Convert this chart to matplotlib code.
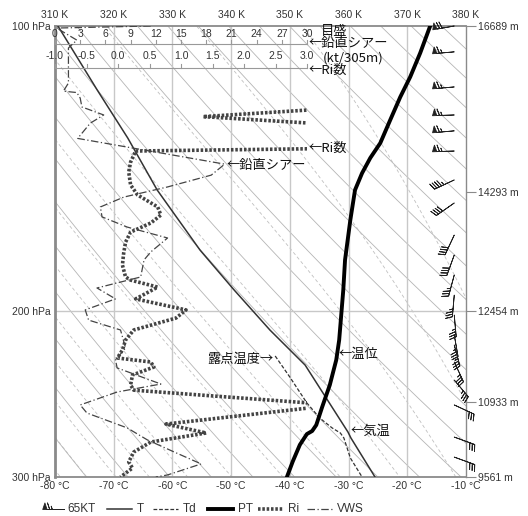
import numpy as np
import matplotlib.pyplot as plt
import matplotlib.transforms as mtransforms
from matplotlib.patches import Rectangle

plt.rcParams['font.family'] = ['Liberation Sans', 'Noto Sans CJK JP', 'DejaVu Sans']
plt.rcParams['font.size'] = 7.5

# temperature (deg C)
t_p = [100, 116.9, 131.4, 149.1, 172.6, 190.2, 209.7, 228.4, 268.9, 272.8, 300]
t_c = [-79.5, -72.8, -67.6, -62.6, -55.3, -49.5, -43.4, -37.4, -30.1, -29.6, -25.5]

# dew point (deg C)
td_p = [223.4, 235.2, 250.5, 259.9, 266.2, 269.5, 272.8, 286.4, 300]
td_c = [-42.5, -40.0, -37.1, -34.9, -32.8, -31.4, -30.8, -29.7, -27.7]

# potential temperature (K)
pt_p = [100, 106.8, 113.2, 118.9, 125.7, 133.0, 137.9, 143.1, 149.1, 160.4, 176.8,
        190.2, 214.9, 225.6, 239.8, 253.0, 264.3, 268.2, 270.2, 277.4, 288.8, 300]
pt_k = [373.9, 372.2, 370.5, 368.8, 367.1, 365.4, 363.7, 362.3, 361.1, 360.3, 359.4,
        359.1, 358.4, 357.9, 356.8, 355.5, 354.5, 353.8, 352.9, 351.7, 350.5, 349.5]

# vertical wind shear (kt/305m)
vws_p = [100, 100.5, 103.5, 105.5, 114.9, 117.2, 117.6, 119.2, 121.8, 124.2, 126.7,
         131.5, 140.0, 143.8, 148.0, 151.7, 155.4, 159.2, 163.2, 167.6, 173.4, 176.8,
         184.3, 189.3, 194.4, 199.7, 204.7, 209.7, 219.1, 225.6, 230.0, 239.2, 243.9,
         251.7, 256.7, 266.2, 274.1, 282.3, 290.6, 298.5, 300]
vws = [11.4, 0.2, 2.6, 1.6, 1.6, 1.0, 2.6, 3.0, 3.2, 5.8, 4.2,
       2.7, 20.2, 18.6, 13.4, 8.2, 5.4, 5.6, 8.6, 13.4, 11.4, 10.6,
       10.2, 5.0, 7.2, 3.6, 4.0, 7.8, 8.4, 7.2, 7.4, 12.6, 7.4,
       3.0, 3.8, 8.6, 11.0, 14.2, 17.4, 13.4, 12.0]

# Richardson number (values above 3 run off the scale)
ri_p = [122.1, 124.7, 127.6, 134.6, 135.6, 139.3, 142.7, 147.3, 150.9, 155.4, 158.5,
        161.6, 165.2, 169.3, 173.9, 179.0, 184.3, 185.7, 188.9, 194.4, 199.7, 203.7,
        209.7, 214.9, 220.2, 224.5, 226.7, 229.5, 234.0, 239.8, 242.8, 251.7, 263.7,
        269.5, 275.5, 282.3, 289.2, 293.5, 300]
ri = [3.54, 1.35, 3.81, 4.0, 0.28, 0.20, 0.17, 0.20, 0.31, 0.63, 0.68,
      0.52, 0.20, 0.12, 0.09, 0.07, 0.12, 0.20, 0.63, 0.28, 1.08, 0.92,
      0.25, 0.12, 0.07, -0.01, 0.52, 0.57, 0.23, 0.20, 0.25, 3.46, 0.76,
      1.40, 0.52, 0.25, 0.17, 0.23, 0.04]

# wind (direction deg, speed kt)
wind_p = [100, 106.5, 116.0, 124.2, 129.1, 135.6, 145.5, 153.9, 166.4, 174.7, 183.4,
          192.6, 202.2, 212.3, 217.5, 226.7, 236.9, 251.7, 272.2, 285.8]
wind_dir = [260, 265, 265, 268, 265, 268, 245, 235, 205, 200, 195,
            185, 175, 170, 165, 155, 140, 115, 110, 110]
wind_spd = [70, 65, 65, 65, 65, 65, 45, 40, 40, 40, 35,
            35, 35, 35, 35, 35, 35, 30, 30, 30]

p_lab = [100, 200, 300]
h_p = [100, 150, 200, 250, 300]
h_m = [16689, 14293, 12454, 10933, 9561]

W, H = 528, 516
L, R, TOP, BOT = 55, 466, 26, 477
fig = plt.figure(figsize=(W / 100, H / 100), dpi=100)
ax = fig.add_axes([L / W, 1 - BOT / H, (R - L) / W, (BOT - TOP) / H])
ax.set_yscale('log')
ax.set_ylim(300, 100)
ax.set_xlim(-80, -10)
frame = '#8a8a8a'
txt = '#333333'

# background: dry adiabats and moist adiabats
pb = np.linspace(100, 300, 200)
for th in range(270, 520, 10):
    ax.plot(th * (pb / 1000) ** 0.2857 - 273.15, pb, color='#b5b5b5', lw=0.6, zorder=1)


def moist_adiabat(t0):
    ps = np.arange(1000, 99, -2.0)
    T = t0 + 273.15
    out = []
    for p in ps:
        out.append(T)
        es = 6.112 * np.exp(17.67 * (T - 273.15) / (T - 29.65))
        rs = 0.622 * es / (p - es)
        dtdp = (287.04 * T + 2.5e6 * rs) / (p * (1005.7 + 2.5e6 ** 2 * rs * 0.622 / (287.04 * T * T)))
        T = T - 2.0 * dtdp
    return ps, np.array(out) - 273.15


for t0 in range(-10, 42, 4):
    ps, tm = moist_adiabat(t0)
    ax.plot(tm, ps, color='#c0c0c0', lw=0.6, ls=(0, (4, 3)), zorder=1)

for t in range(-70, -10, 10):
    ax.axvline(t, color='#c8c8c8', lw=1.0, zorder=1)
ax.axhline(200, color='#c8c8c8', lw=1.0, zorder=1)

# curves
ax.plot(t_c, t_p, color='#333333', lw=1.1, zorder=4)
ax.plot(td_c, td_p, color='#333333', lw=0.9, ls=(0, (3, 1.5)), zorder=4)

ax_pt = ax.twiny()
ax_pt.set_xlim(310, 380)
ax_pt.plot(pt_k, pt_p, color='black', lw=2.8, zorder=5)

span = 252 / (R - L)
ax_s = ax.twiny()
ax_s.set_xlim(0, 30 / span)
ax_s.plot(vws, vws_p, color='#444444', lw=0.9, ls=(0, (6, 2, 1, 2)), zorder=4)

ax_r = ax.twiny()
ax_r.set_xlim(-1, -1 + 4 / span)
ri_line, = ax_r.plot(ri, ri_p, color='#444444', lw=2.6, ls=(0, (0.7, 0.5)), zorder=4)
clip = Rectangle((-1, 0), 4, 1, transform=mtransforms.blended_transform_factory(ax_r.transData, ax_r.transAxes))
ri_line.set_clip_path(clip)

# inner scales for shear and Ri
for a, ticks, yl, yt, fmt in [(ax_s, np.arange(0, 31, 3), 1 - (44 - TOP) / (BOT - TOP), 1 - (34 - TOP) / (BOT - TOP), '{:.0f}'),
                              (ax_r, np.arange(-1.0, 3.01, 0.5), 1 - (68 - TOP) / (BOT - TOP), 1 - (56 - TOP) / (BOT - TOP), '{:.1f}')]:
    tr = mtransforms.blended_transform_factory(a.transData, a.transAxes)
    a.plot([ticks[0], ticks[-1]], [yl, yl], color='#999999', lw=0.8, transform=tr, zorder=3)
    for v in ticks:
        a.plot([v, v], [yl, yl + 0.008], color='#999999', lw=0.8, transform=tr, zorder=3)
        a.text(v, yt, fmt.format(v), transform=tr, ha='center', va='center', fontsize=7.5, color=txt)

# winds
barb_kw = dict(length=5.6, pivot='tip', color='#222222', lw=0.6,
               sizes=dict(spacing=0.12, height=0.3, width=0.2))
wd = np.radians(wind_dir)
u = -np.array(wind_spd) * np.sin(wd)
v = -np.array(wind_spd) * np.cos(wd)
ax.barbs(np.full(len(wind_p), -12.0), wind_p, u, v, clip_on=False, zorder=6, **barb_kw)

# axes styling
for a in (ax_s, ax_r):
    a.set_xticks([])
    for s in a.spines.values():
        s.set_visible(False)
for s in ax.spines.values():
    s.set_color(frame)
ax.spines['left'].set_linewidth(2)
ax.spines['top'].set_linewidth(1.3)
ax.spines['bottom'].set_linewidth(1.3)
ax.spines['right'].set_linewidth(1.0)
for s in ax_pt.spines.values():
    s.set_visible(False)

ax.set_xticks(range(-80, -9, 10))
ax.set_xticklabels([f'{t} °C' for t in range(-80, -9, 10)])
ax.set_yticks(p_lab)
ax.set_yticklabels([f'{p} hPa' for p in p_lab])
ax.yaxis.set_minor_locator(plt.NullLocator())
ax.tick_params(length=0, labelsize=7.5, labelcolor=txt, pad=3)
ax_pt.set_xticks(range(310, 381, 10))
ax_pt.set_xticklabels([f'{k} K' for k in range(310, 381, 10)])
ax_pt.tick_params(length=0, labelsize=7.5, labelcolor=txt, pad=4)

ax_h = ax.twinx()
ax_h.set_yscale('log')
ax_h.set_ylim(300, 100)
ax_h.set_yticks(h_p)
ax_h.set_yticklabels([f'{h} m' for h in h_m])
ax_h.yaxis.set_minor_locator(plt.NullLocator())
ax_h.tick_params(length=7, color=frame, labelsize=7.5, labelcolor=txt, pad=2)
for s in ax_h.spines.values():
    s.set_visible(False)

# labels
jp = ['Noto Sans CJK JP']


def note(x, y, s, ha='left', size=9.5):
    fig.text(x / W, 1 - y / H, s, ha=ha, va='center', fontsize=size, color='#111111', family=jp)


note(321, 31, '目盛')
note(309, 44, '←鉛直シアー')
note(323, 58, '(kt/305m)')
note(309, 70, '←Ri数')
note(309, 148, '←Ri数')
note(227, 165, '←鉛直シアー')
note(274, 359, '露点温度→', ha='right')
note(339, 354, '←温位')
note(351, 431, '←気温')

# legend
lax = fig.add_axes([0, 0, 1, 24 / H])
lax.set_xlim(0, W)
lax.set_ylim(H, H - 24)
lax.axis('off')
ly = 509
lax.barbs([64], [ly], [65], [0], **barb_kw)
lax.text(67, ly, '65KT', va='center', fontsize=8.5, color=txt)
items = [(107, 'T', dict(color='#333333', lw=1.1)),
         (153, 'Td', dict(color='#333333', lw=0.9, ls=(0, (3, 1.5)))),
         (208, 'PT', dict(color='black', lw=2.8)),
         (258, 'Ri', dict(color='#444444', lw=2.6, ls=(0, (0.7, 0.5)))),
         (307, 'VWS', dict(color='#444444', lw=0.9, ls=(0, (6, 2, 1, 2))))]
for x0, name, kw in items:
    lax.plot([x0, x0 + 25], [ly, ly], **kw)
    lax.text(x0 + 30, ly, name, va='center', fontsize=8.5, color=txt)

fig.savefig('out.png', dpi=100)
